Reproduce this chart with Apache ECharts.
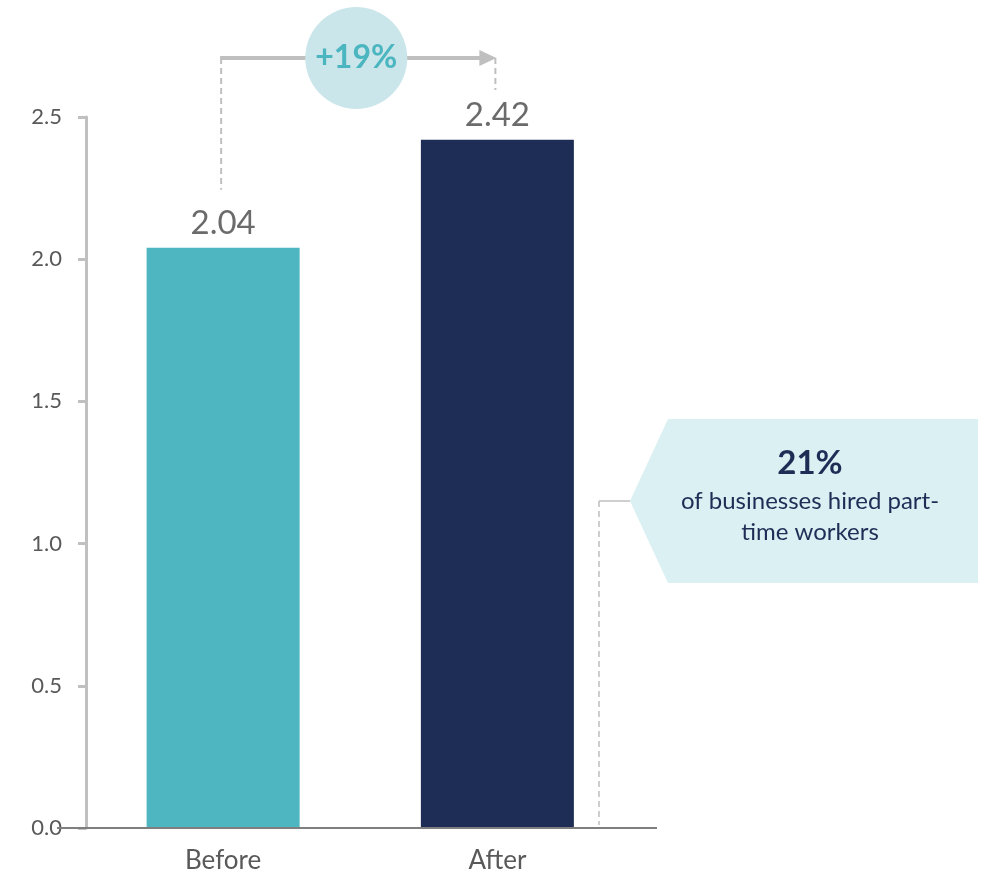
<!DOCTYPE html>
<html>
<head>
<meta charset="utf-8">
<script src="https://cdn.jsdelivr.net/npm/echarts@6/dist/echarts.min.js"></script>
<style>
html,body{margin:0;padding:0;background:#fff;}
#chart{width:982px;height:878px;}
</style>
</head>
<body>
<div id="chart"></div>
<script>
var categories = ['Before', 'After'];
var values = [2.04, 2.42];
var barColors = ['#4db6c0', '#1e2d55'];
var yTicks = [0, 0.5, 1.0, 1.5, 2.0, 2.5];
var changeLabel = '+19%';
var calloutValue = '21%';
var calloutText = ['of businesses hired part-', 'time workers'];

var FONT = 'Lato, "Open Sans", sans-serif';
var chart = echarts.init(document.getElementById('chart'));

var option = {
  animation: false,
  grid: { left: 86, right: 347.5, top: 117, bottom: 50, containLabel: false },
  xAxis: {
    type: 'category',
    data: categories,
    axisLine: { show: false },
    axisTick: { show: false },
    axisLabel: { color: '#595959', fontSize: 26, margin: 20, fontFamily: FONT }
  },
  yAxis: {
    type: 'value',
    min: yTicks[0],
    max: yTicks[yTicks.length - 1],
    interval: 0.5,
    splitLine: { show: false },
    axisLine: { show: true, lineStyle: { color: '#c0c0c0', width: 3 } },
    axisTick: { show: true, length: 8, lineStyle: { color: '#c0c0c0', width: 3 } },
    axisLabel: {
      color: '#595959', fontSize: 22, margin: 24, fontFamily: FONT,
      formatter: function (v) { return v.toFixed(1); }
    }
  },
  series: [{
    type: 'bar',
    barWidth: 153,
    data: values.map(function (v, i) { return { value: v, itemStyle: { color: barColors[i] } }; }),
    label: {
      show: true, position: 'top', distance: 8,
      color: '#6b6b6b', fontSize: 33, fontFamily: FONT,
      formatter: function (p) { return p.value.toFixed(2); }
    }
  }]
};
chart.setOption(option);

var p0 = chart.convertToPixel({ gridIndex: 0 }, [0, values[0]]);
var p1 = chart.convertToPixel({ gridIndex: 0 }, [1, values[1]]);
var base = chart.convertToPixel({ gridIndex: 0 }, [0, 0]);
var x0 = p0[0] - 2, x1 = p1[0] - 2;
var arrowY = 58;
var midX = (x0 + x1) / 2 - 2;
var gray = '#bfbfbf';

var calloutX = 599;
var tipY = 501;

chart.setOption({
  graphic: [
    // baseline
    { type: 'line', shape: { x1: 57, y1: base[1], x2: 657, y2: base[1] }, style: { stroke: '#7f7f7f', lineWidth: 2 }, z: 10 },
    // left dashed vertical
    { type: 'line', shape: { x1: x0, y1: arrowY, x2: x0, y2: p0[1] - 58 }, style: { stroke: gray, lineWidth: 2, lineDash: [6, 4] } },
    // right dashed vertical
    { type: 'line', shape: { x1: x1, y1: arrowY, x2: x1, y2: arrowY + 32 }, style: { stroke: gray, lineWidth: 2, lineDash: [6, 4] } },
    // horizontal arrow line
    { type: 'line', shape: { x1: x0 - 1, y1: arrowY, x2: x1 - 14, y2: arrowY }, style: { stroke: gray, lineWidth: 4 } },
    { type: 'polygon', shape: { points: [[x1 - 16, arrowY - 8], [x1 + 1, arrowY], [x1 - 16, arrowY + 8]] }, style: { fill: gray } },
    // circle
    { type: 'circle', shape: { cx: midX, cy: arrowY, r: 51 }, style: { fill: '#cbe6ea' }, z: 5 },
    { type: 'text', x: midX, y: arrowY, z: 6, style: { text: changeLabel, fill: '#4bb5c0', font: 'bold 32px ' + FONT, textAlign: 'center', textVerticalAlign: 'middle' } },
    // callout connector
    { type: 'line', shape: { x1: calloutX, y1: tipY, x2: 630, y2: tipY }, style: { stroke: gray, lineWidth: 1.5 } },
    { type: 'line', shape: { x1: calloutX, y1: tipY, x2: calloutX, y2: base[1] - 3 }, style: { stroke: gray, lineWidth: 1.5, lineDash: [6, 4] } },
    // callout shape
    { type: 'polygon', shape: { points: [[630, tipY], [668, 419], [978, 419], [978, 583], [668, 583]] }, style: { fill: '#dbf0f2' } },
    { type: 'text', x: 810, y: 463, z: 6, style: { text: calloutValue, fill: '#1e2d55', font: 'bold 33px ' + FONT, textAlign: 'center', textVerticalAlign: 'middle' } },
    { type: 'text', x: 810, y: 501, z: 6, style: { text: calloutText[0], fill: '#1e2d55', font: '24px ' + FONT, textAlign: 'center', textVerticalAlign: 'middle' } },
    { type: 'text', x: 810, y: 532, z: 6, style: { text: calloutText[1], fill: '#1e2d55', font: '24px ' + FONT, textAlign: 'center', textVerticalAlign: 'middle' } }
  ]
});
</script>
</body>
</html>
